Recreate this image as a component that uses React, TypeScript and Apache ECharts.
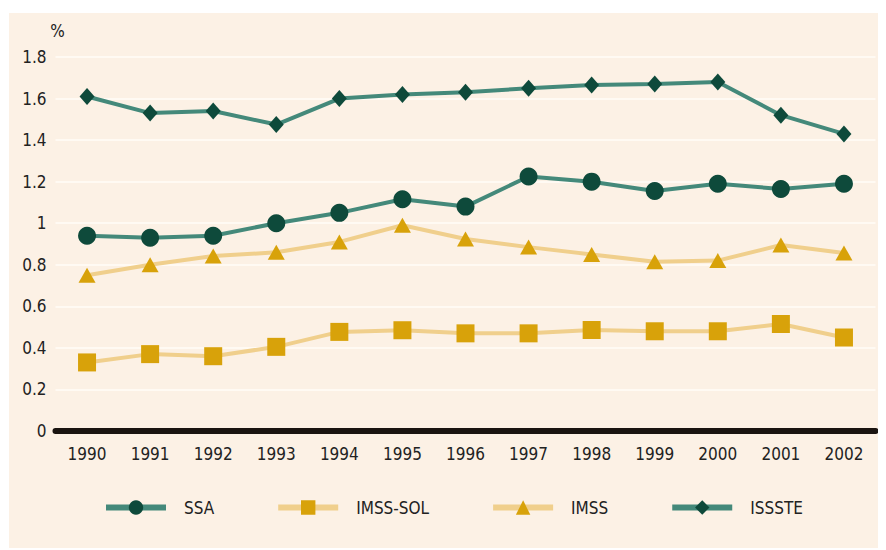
import React, { useEffect, useRef } from "react";
import * as echarts from "echarts";

const years = ["1990", "1991", "1992", "1993", "1994", "1995", "1996", "1997", "1998", "1999", "2000", "2001", "2002"];
const ssa = [0.94, 0.93, 0.94, 1.0, 1.05, 1.115, 1.08, 1.225, 1.2, 1.155, 1.19, 1.165, 1.19];
const imssSol = [0.33, 0.37, 0.36, 0.405, 0.477, 0.485, 0.47, 0.47, 0.486, 0.48, 0.48, 0.515, 0.45];
const imss = [0.75, 0.8, 0.842, 0.86, 0.91, 0.99, 0.924, 0.885, 0.85, 0.815, 0.82, 0.895, 0.857];
const issste = [1.61, 1.53, 1.54, 1.475, 1.6, 1.62, 1.63, 1.65, 1.665, 1.67, 1.68, 1.52, 1.43];
const yTicks = [0, 0.2, 0.4, 0.6, 0.8, 1, 1.2, 1.4, 1.6, 1.8];

const FONT = "'Liberation Sans Narrow', 'DejaVu Sans Condensed', 'Liberation Sans', sans-serif";
const TEAL_LINE = "#44897a";
const TEAL_MARK = "#0e4a3b";
const TAN_LINE = "#f0cf8c";
const GOLD_MARK = "#d8a20a";
const TEXT = "#222222";

export default function App() {
  const ref = useRef<HTMLDivElement>(null);
  useEffect(() => {
    if (!ref.current) return;
    const chart = echarts.init(ref.current, null, { renderer: "svg" });
    const mk = (name: string, data: number[], symbol: string, size: number | number[], lineColor: string, markColor: string) => ({
      name,
      type: "line",
      data,
      symbol,
      symbolSize: size,
      showAllSymbol: true,
      lineStyle: { color: lineColor, width: 4 },
      itemStyle: { color: markColor },
      z: 3,
    });
    chart.setOption({
      animation: false,
      backgroundColor: "transparent",
      grid: { left: 55.5, right: 10.5, top: 57, bottom: 119, containLabel: false },
      xAxis: {
        type: "category",
        data: years,
        boundaryGap: true,
        axisLine: { show: true, lineStyle: { color: "#1a1410", width: 6 } },
        axisTick: { show: false },
        axisLabel: { color: TEXT, fontFamily: FONT, fontSize: 17, margin: 14 },
        splitLine: { show: false },
      },
      yAxis: {
        type: "value",
        min: 0,
        max: 1.8,
        interval: 0.2,
        name: "%",
        nameLocation: "end",
        nameGap: 18,
        nameTextStyle: { color: TEXT, fontFamily: FONT, fontSize: 17, align: "center", padding: [0, 0, 0, 4] },
        axisLine: { show: false },
        axisTick: { show: false },
        axisLabel: {
          color: TEXT,
          fontFamily: FONT,
          fontSize: 17,
          margin: 9,
          formatter: (v: number) => {
            const t = yTicks.find((x) => Math.abs(x - v) < 1e-6);
            return t === undefined ? "" : String(t);
          },
        },
        splitLine: { show: true, lineStyle: { color: "#fffaf3", width: 2 } },
      },
      legend: {
        left: 98,
        top: 494,
        itemWidth: 60,
        itemHeight: 18,
        itemGap: 61,
        lineStyle: { width: 6 },
        textStyle: { color: TEXT, fontFamily: FONT, fontSize: 17, padding: [0, 0, 0, 13] },
        data: ["SSA", "IMSS-SOL", "IMSS", "ISSSTE"],
      },
      series: [
        mk("SSA", ssa, "circle", 18, TEAL_LINE, TEAL_MARK),
        mk("IMSS-SOL", imssSol, "rect", 18, TAN_LINE, GOLD_MARK),
        mk("IMSS", imss, "triangle", [17, 15], TAN_LINE, GOLD_MARK),
        mk("ISSSTE", issste, "diamond", [15, 17], TEAL_LINE, TEAL_MARK),
      ],
    });
    return () => chart.dispose();
  }, []);
  return (
    <div style={{ position: "relative", width: 878, height: 542, background: "#ffffff" }}>
      <div
        style={{ position: "absolute", left: 1, top: 5, width: 877, height: 535, background: "#fcf1e5" }}
      />
      <div ref={ref} style={{ position: "absolute", left: -8, top: -8, width: 886, height: 550 }} />
    </div>
  );
}
